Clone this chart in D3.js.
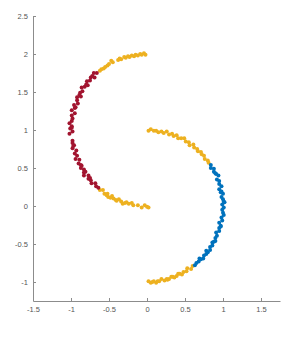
<!DOCTYPE html>
<meta charset="utf-8">
<style>
  body { margin: 0; background: #fff; }
  .axis path, .axis line { stroke: #8c8c8c; }
  .axis text { fill: #555; font-family: "Liberation Sans", Arial, sans-serif; font-size: 7.5px; }
</style>
<svg width="308" height="337"></svg>
<script src="https://d3js.org/d3.v7.min.js"></script>
<script>
  // upper moon, top end (yellow)
  var upperTop = [
    [-0.02, 1.99], [-0.04, 2.01], [-0.07, 1.99], [-0.09, 2.00], [-0.12, 1.98], [-0.15, 1.99],
    [-0.17, 1.97], [-0.20, 1.98], [-0.23, 1.96], [-0.25, 1.97], [-0.28, 1.95], [-0.30, 1.96],
    [-0.34, 1.93], [-0.36, 1.94], [-0.38, 1.92], [-0.45, 1.89], [-0.47, 1.91], [-0.50, 1.87],
    [-0.52, 1.85], [-0.55, 1.83], [-0.57, 1.81], [-0.60, 1.80], [-0.62, 1.78]
  ];
  // upper moon, middle (red)
  var upperMid = [
    [-0.66, 1.75], [-0.70, 1.75], [-0.69, 1.69], [-0.74, 1.69], [-0.75, 1.65], [-0.79, 1.64],
    [-0.78, 1.59], [-0.82, 1.57], [-0.86, 1.56], [-0.85, 1.51], [-0.88, 1.49], [-0.87, 1.44],
    [-0.92, 1.43], [-0.92, 1.39], [-0.91, 1.35], [-0.96, 1.33], [-0.95, 1.29], [-0.99, 1.26],
    [-0.95, 1.22], [-0.99, 1.19], [-0.98, 1.15], [-0.99, 1.12], [-1.02, 1.09], [-0.99, 1.05],
    [-1.01, 1.02], [-0.98, 0.98], [-1.02, 0.95], [-0.98, 0.86], [-0.98, 0.83], [-0.96, 0.80],
    [-0.98, 0.76], [-0.93, 0.73], [-0.95, 0.69], [-0.92, 0.66], [-0.94, 0.62], [-0.89, 0.61],
    [-0.90, 0.56], [-0.87, 0.54], [-0.87, 0.50], [-0.83, 0.48], [-0.83, 0.44], [-0.83, 0.40],
    [-0.77, 0.40], [-0.77, 0.36], [-0.74, 0.34], [-0.73, 0.30], [-0.68, 0.30], [-0.67, 0.26],
    [-0.64, 0.24], [-0.75, 0.37], [-0.81, 0.45], [-0.86, 0.53], [-0.97, 0.79], [-0.99, 1.03],
    [-0.94, 1.30], [-0.89, 1.46], [-0.80, 1.60], [-0.72, 1.71]
  ];
  // upper moon, bottom end (yellow)
  var upperLow = [
    [-0.62, 0.21], [-0.58, 0.21], [-0.56, 0.16], [-0.52, 0.16], [-0.51, 0.12], [-0.46, 0.13],
    [-0.44, 0.10], [-0.41, 0.08], [-0.37, 0.09], [-0.34, 0.06], [-0.32, 0.03], [-0.27, 0.05],
    [-0.24, 0.03], [-0.20, 0.04], [-0.18, 0.01], [-0.12, 0.01], [-0.07, -0.02], [-0.03, 0.01],
    [0.00, -0.01], [0.02, -0.02], [-0.48, 0.11], [-0.53, 0.14], [-0.40, 0.07], [-0.29, 0.04]
  ];
  // lower moon, top end (yellow)
  var lowerTop = [
    [0.02, 0.99], [0.05, 1.01], [0.09, 0.99], [0.12, 0.99], [0.15, 0.97], [0.19, 0.98],
    [0.22, 0.96], [0.26, 0.98], [0.29, 0.94], [0.33, 0.95], [0.35, 0.92], [0.39, 0.93],
    [0.41, 0.89], [0.45, 0.89], [0.49, 0.89], [0.51, 0.85], [0.55, 0.84], [0.56, 0.80],
    [0.61, 0.81], [0.62, 0.77], [0.66, 0.75], [0.67, 0.72], [0.71, 0.71], [0.72, 0.68],
    [0.75, 0.66], [0.76, 0.62], [0.80, 0.60], [0.81, 0.57]
  ];
  // lower moon, middle (blue)
  var lowerMid = [
    [0.84, 0.54], [0.84, 0.50], [0.88, 0.49], [0.88, 0.45], [0.91, 0.42], [0.94, 0.40],
    [0.92, 0.35], [0.95, 0.33], [0.95, 0.29], [0.98, 0.26], [0.95, 0.22], [0.98, 0.19],
    [1.00, 0.16], [0.98, 0.12], [1.00, 0.09], [1.02, 0.05], [0.99, 0.02], [1.01, -0.02],
    [0.99, -0.05], [1.00, -0.09], [1.01, -0.12], [0.98, -0.15], [0.99, -0.19], [0.95, -0.22],
    [0.97, -0.26], [0.95, -0.29], [0.95, -0.33], [0.91, -0.35], [0.92, -0.39], [0.90, -0.42],
    [0.90, -0.46], [0.86, -0.48], [0.86, -0.52], [0.83, -0.54], [0.83, -0.58], [0.78, -0.59],
    [0.78, -0.63], [0.75, -0.65], [0.74, -0.69], [0.69, -0.69], [0.68, -0.73], [0.65, -0.75],
    [0.63, -0.78], [0.90, 0.43], [0.97, 0.18], [1.01, 0.06], [0.97, -0.27], [0.88, -0.47],
    [0.80, -0.61], [0.71, -0.70]
  ];
  // lower moon, bottom end (yellow)
  var lowerLow = [
    [0.60, -0.79], [0.58, -0.83], [0.53, -0.82], [0.52, -0.86], [0.48, -0.87], [0.46, -0.90],
    [0.41, -0.89], [0.39, -0.92], [0.36, -0.94], [0.32, -0.93], [0.29, -0.96], [0.26, -0.96],
    [0.23, -0.98], [0.19, -0.96], [0.16, -0.99], [0.12, -1.01], [0.09, -0.99], [0.05, -1.01],
    [0.02, -0.99], [0.43, -0.89], [0.34, -0.93], [0.27, -0.97], [0.14, -0.99], [0.07, -1.00]
  ];

  var xTicks = [-1.5, -1, -0.5, 0, 0.5, 1, 1.5],
    xTickLabels = ["-1.5", "-1", "-0.5", "0", "0.5", "1", "1.5"];
  var yTicks = [-1, -0.5, 0, 0.5, 1, 1.5, 2, 2.5],
    yTickLabels = ["-1", "-0.5", "0", "0.5", "1", "1.5", "2", "2.5"];

  var svg = d3.select("svg"),
    margin = { top: 16, right: 28, bottom: 36, left: 33 },
    width = +svg.attr("width") - margin.left - margin.right,
    height = +svg.attr("height") - margin.top - margin.bottom;

  var x = d3.scaleLinear().domain([-1.5, 1.75]).range([0, width]),
    y = d3.scaleLinear().domain([-1.25, 2.5]).range([height, 0]);

  var g = svg.append("g")
    .attr("transform", "translate(" + margin.left + "," + margin.top + ")");

  g.append("g")
    .attr("class", "axis axis--x")
    .attr("transform", "translate(0," + height + ")")
    .call(d3.axisBottom(x).tickValues(xTicks)
      .tickFormat(function(d, i) { return xTickLabels[i]; })
      .tickSizeInner(-3).tickSizeOuter(0).tickPadding(6));

  g.append("g")
    .attr("class", "axis axis--y")
    .call(d3.axisLeft(y).tickValues(yTicks)
      .tickFormat(function(d, i) { return yTickLabels[i]; })
      .tickSizeInner(-3).tickSizeOuter(0).tickPadding(5));

  var groups = [
    { pts: upperTop, color: "#EDB120" },
    { pts: upperLow, color: "#EDB120" },
    { pts: lowerTop, color: "#EDB120" },
    { pts: lowerLow, color: "#EDB120" },
    { pts: upperMid, color: "#A2142F" },
    { pts: lowerMid, color: "#0072BD" }
  ];

  groups.forEach(function(grp) {
    g.append("g").selectAll("circle")
      .data(grp.pts)
      .enter().append("circle")
      .attr("cx", function(d) { return x(d[0]); })
      .attr("cy", function(d) { return y(d[1]); })
      .attr("r", 2)
      .attr("fill", grp.color);
  });
</script>
